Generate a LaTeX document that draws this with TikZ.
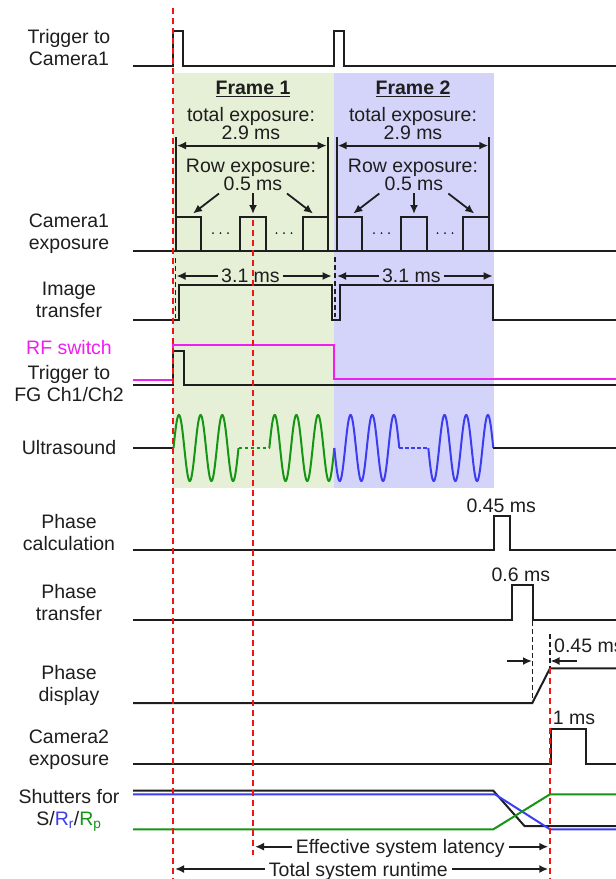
\documentclass[tikz,border=0pt]{standalone}
\usepackage{fontspec}
\setmainfont{Liberation Sans}
\usetikzlibrary{arrows.meta}
\definecolor{greenbg}{RGB}{230,240,214}
\definecolor{bluebg}{RGB}{212,212,250}
\definecolor{sig}{RGB}{30,30,30}
\definecolor{usgreen}{RGB}{20,150,20}
\definecolor{usblue}{RGB}{60,60,240}
\definecolor{rfmag}{RGB}{240,30,240}
\definecolor{dashred}{RGB}{240,20,20}
\begin{document}
\begin{tikzpicture}[x=1pt,y=-1pt,
  every node/.style={font=\fontsize{19.5}{22}\selectfont, inner sep=0pt, text=sig},
  lab/.style={align=center},
  sigline/.style={draw=sig, line width=2pt, line join=miter},
  arr/.style={draw=sig, line width=1.8pt, -{Latex[length=9pt,width=8pt]}},
  dblarr/.style={draw=sig, line width=1.8pt, {Latex[length=9pt,width=8pt]}-{Latex[length=9pt,width=8pt]}},
  bar/.style={draw=sig, line width=2pt},
  reddash/.style={draw=dashred, line width=2pt, dash pattern=on 6pt off 4pt},
  blkdash/.style={draw=sig, line width=1.6pt, dash pattern=on 5pt off 3pt},
  usdash/.style={line width=1.8pt, dash pattern=on 3.5pt off 2.5pt},
  wave/.style={line width=2pt},
]
\useasboundingbox (0,0) rectangle (616,879);
\fill[white] (0,0) rectangle (616,879);
% frame backgrounds
\fill[greenbg] (172.5,73) rectangle (334,488);
\fill[bluebg] (334,73) rectangle (494,488);

% row labels
\node[lab] (lTrig) at (69,48) {Trigger to\\Camera1};
\node[lab] (lCam1) at (69,234) {Camera1\\exposure};
\node[lab] (lImg) at (69,300.3) {Image\\transfer};
\node[lab, text=rfmag] (lRF) at (69,347.3) {RF switch};
\node[lab] (lFG) at (69,384) {Trigger to\\FG Ch1/Ch2};
\node[lab] (lUS) at (69,448) {Ultrasound};
\node[lab] (lPC) at (69,532.5) {Phase\\calculation};
\node[lab] (lPT) at (69,602.5) {Phase\\transfer};
\node[lab] (lPD) at (69,685.7) {Phase\\display};
\node[lab] (lCam2) at (69,749.5) {Camera2\\exposure};
\node[lab] (lSh) at (69,810.5) {Shutters for\\S/\textcolor{usblue}{R\textsubscript{r}}/\textcolor{usgreen}{R\textsubscript{p}}};

% trigger to camera1
\draw[sigline] (133,66)--(172.5,66)--(172.5,31)--(183,31)--(183,66)--(334,66)--(334,31)--(344,31)--(344,66)--(616,66);

% frame titles and texts
\node[anchor=base] (f1) at (253,94.3) {\underline{\textbf{Frame 1}}};
\node[anchor=base] (f2) at (413,94.3) {\underline{\textbf{Frame 2}}};
\node[anchor=base] (te1) at (251,121.5) {total exposure:};
\node[anchor=base] (tv1) at (251,139.5) {2.9 ms};
\node[anchor=base] (re1) at (251,172.5) {Row exposure:};
\node[anchor=base] (rv1) at (253,190.5) {0.5 ms};
\node[anchor=base] (te2) at (413,121.5) {total exposure:};
\node[anchor=base] (tv2) at (413,139.5) {2.9 ms};
\node[anchor=base] (re2) at (413,172.5) {Row exposure:};
\node[anchor=base] (rv2) at (414,190.5) {0.5 ms};

% total exposure bars and arrows
\draw[bar] (176,137)--(176,251);
\draw[bar] (327.7,137)--(327.7,251);
\draw[bar] (336.7,137)--(336.7,251);
\draw[bar] (489.3,137)--(489.3,251);
\draw[dblarr] (177,145.6)--(326.7,145.6);
\draw[dblarr] (337.7,145.6)--(488.3,145.6);

% row exposure arrows
\draw[arr] (219,193.5)--(193,213.5);
\draw[arr] (253,193)--(253,214);
\draw[arr] (287,193.5)--(313,213.5);
\draw[arr] (379.3,193.5)--(353.3,213.5);
\draw[arr] (414,193)--(414,214);
\draw[arr] (448.3,193.5)--(474.3,213.5);

% camera1 exposure
\draw[sigline] (133,251)--(616,251);
\foreach \a/\b in {176/201,240/265.7,302.7/327.7,336.7/362.3,400.7/426.7,463.3/489.3}
  \draw[sigline] (\a,251)--(\a,216.7)--(\b,216.7)--(\b,251);
\foreach \x in {213,220.5,228,276.5,284,291.5,374,381.5,389,437.5,445,452.5}
  \fill[sig] (\x,233) circle (1);

% 3.1 ms arrows
\node (t31a) at (250.5,276) {3.1 ms};
\node (t31b) at (411.3,276) {3.1 ms};
\draw[arr] ([xshift=-3pt]t31a.west)--(176.5,276);
\draw[arr] ([xshift=3pt]t31a.east)--(331.7,276);
\draw[arr] ([xshift=-3pt]t31b.west)--(337,276);
\draw[arr] ([xshift=3pt]t31b.east)--(492.7,276);
\draw[blkdash] (175.5,258)--(175.5,318);
\draw[blkdash] (335,257)--(335,317);

% image transfer
\draw[sigline] (133,320)--(179,320)--(179,285)--(332.3,285)--(332.3,320)--(340,320)--(340,285)--(493.3,285)--(493.3,320)--(616,320);

% RF switch and FG trigger
\draw[draw=rfmag, line width=2pt] (133,379.5)--(172.5,379.5)--(172.5,345)--(334,345)--(334,379)--(616,379);
\draw[sigline] (133,384.7)--(172.5,384.7)--(172.5,350.7)--(184,350.7)--(184,385)--(616,385);

% ultrasound
\draw[sigline] (133,448)--(173.5,448);
\draw[usgreen, wave] plot[domain=0:65, samples=160, smooth] ({173.5+\x}, {448 - 33*sin(16.613*\x)});
\draw[usgreen, usdash] (238.5,448)--(269.3,448);
\draw[usgreen, wave] plot[domain=0:65, samples=160, smooth] ({269.3+\x}, {448 - 33*sin(16.613*\x)});
\draw[usblue, wave] plot[domain=0:65, samples=160, smooth] ({334.3+\x}, {448 + 33*sin(16.613*\x)});
\draw[usblue, usdash] (399.3,448)--(428.3,448);
\draw[usblue, wave] plot[domain=0:65, samples=160, smooth] ({428.3+\x}, {448 + 33*sin(16.613*\x)});
\draw[sigline] (493.3,448)--(616,448);

% phase calculation
\draw[sigline] (133,550)--(494.3,550)--(494.3,516)--(510,516)--(510,550)--(616,550);
\node (pc) at (501.3,506) {0.45 ms};
% phase transfer
\draw[sigline] (133,620)--(511.7,620)--(511.7,585.3)--(532.7,585.3)--(532.7,620)--(616,620);
\node (pt) at (520.8,575) {0.6 ms};
% phase display
\draw[sigline] (133,703)--(532.3,703)--(550,668.3)--(616,668.3);
\draw[blkdash] (532.5,621)--(532.5,700);
\draw[blkdash] (550,634)--(550,668);
\draw[arr] (506.7,661)--(532,661);
\draw[arr] (576.7,661)--(550.5,661);
\node[anchor=west] (pd) at (554,646) {0.45 ms};
% camera2 exposure
\draw[sigline] (133,764)--(550.7,764)--(550.7,729.3)--(585.7,729.3)--(585.7,764)--(616,764);
\node (c2) at (574,717.5) {1 ms};

% shutters
\draw[sig, line width=2pt] (133,790.7)--(493.3,790.7)--(524.5,826)--(616,826);
\draw[usblue, line width=2pt] (133,794.3)--(495,794.3)--(550,829.3)--(616,829.3);
\draw[usgreen, line width=2pt] (133,829.3)--(493.3,829.3)--(550,794.3)--(616,794.3);

% latency arrows
\node[text height=14pt, text depth=0pt] (esl) at (400.3,846.7) {Effective system latency};
\node[text height=14pt, text depth=0pt] (tsr) at (358.3,869) {Total system runtime};
\draw[arr] ([xshift=-4pt]esl.west)--(255,846.7);
\draw[arr] ([xshift=4pt]esl.east)--(548.3,846.7);
\draw[arr] ([xshift=-4pt]tsr.west)--(175,869);
\draw[arr] ([xshift=4pt]tsr.east)--(548.3,869);

% red dashed reference lines
\draw[reddash] (172.5,8)--(172.5,879);
\draw[reddash] (253,220)--(253,855);
\draw[reddash] (550,668)--(550,879);
\end{tikzpicture}
\end{document}
